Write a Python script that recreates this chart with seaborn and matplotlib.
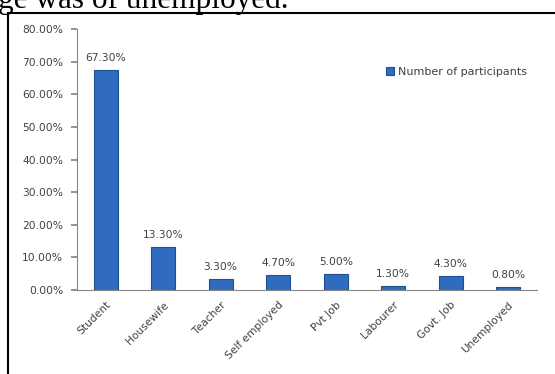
import numpy as np
import pandas as pd
import seaborn as sns
import matplotlib.pyplot as plt
from matplotlib.patches import Rectangle

categorias = ["Student", "Housewife", "Teacher", "Self employed", "Pvt Job",
              "Labourer", "Govt. Job", "Unemployed"]
percentuais = [67.3, 13.3, 3.3, 4.7, 5.0, 1.3, 4.3, 0.8]
y_ticks = [0, 10, 20, 30, 40, 50, 60, 70, 80]

df = pd.DataFrame({"categoria": categorias, "pct": percentuais})

sns.set_theme(style="white")
plt.rcParams['font.family'] = ['DejaVu Sans']

fig = plt.figure(figsize=(5.55, 3.74), dpi=100)
ax = fig.add_axes([77 / 555, 84 / 374, 460 / 555, 261 / 374])

sns.barplot(data=df, x="categoria", y="pct", color="#2f6cc0", width=0.42,
            edgecolor="#1d4f91", linewidth=0.8, saturation=1,
            label="Number of participants", ax=ax)

ax.bar_label(ax.containers[0], labels=[f"{v:.2f}%" for v in percentuais],
             padding=5, fontsize=7.7, color="#404040")

ax.set_ylim(0, 80)
ax.set_xlim(-0.5, len(categorias) - 0.5)
ax.set_yticks(y_ticks)
ax.set_yticklabels([f"{t:.2f}%" for t in y_ticks], fontsize=7.7, color="#404040")
ax.set_xticks(range(len(categorias)))
ax.set_xticklabels(categorias, rotation=45, ha="right", rotation_mode="anchor",
                   fontsize=7.7, color="#404040")
ax.set_xticks(np.arange(-0.5, len(categorias), 1), minor=True)
ax.tick_params(axis="x", which="major", length=0, pad=7)
ax.tick_params(axis="x", which="minor", length=4, color="#868686", direction="out")
ax.tick_params(axis="y", length=4, color="#868686", direction="out", left=True, pad=6)
ax.set_xlabel("")
ax.set_ylabel("")

for lado in ["top", "right"]:
    ax.spines[lado].set_visible(False)
for lado in ["left", "bottom"]:
    ax.spines[lado].set_color("#868686")
    ax.spines[lado].set_linewidth(0.8)

ax.legend(loc="center left", bbox_to_anchor=(0.65, 0.835), frameon=False,
          fontsize=8, handlelength=0.7, handleheight=0.7, handletextpad=0.4,
          labelcolor="#404040")

# moldura do documento e texto cortado no topo
fig.patches.append(Rectangle((8 / 555, -0.1), 1.2, 1 - 13 / 374 + 0.1,
                             transform=fig.transFigure, fill=False,
                             edgecolor="black", linewidth=1.5))
fig.text(-0.004, 1 - 8 / 374, "ge was of unemployed.", fontsize=22.5,
         family=["Liberation Serif"], va="baseline", ha="left", color="black")

plt.savefig("out.png", dpi=100)
